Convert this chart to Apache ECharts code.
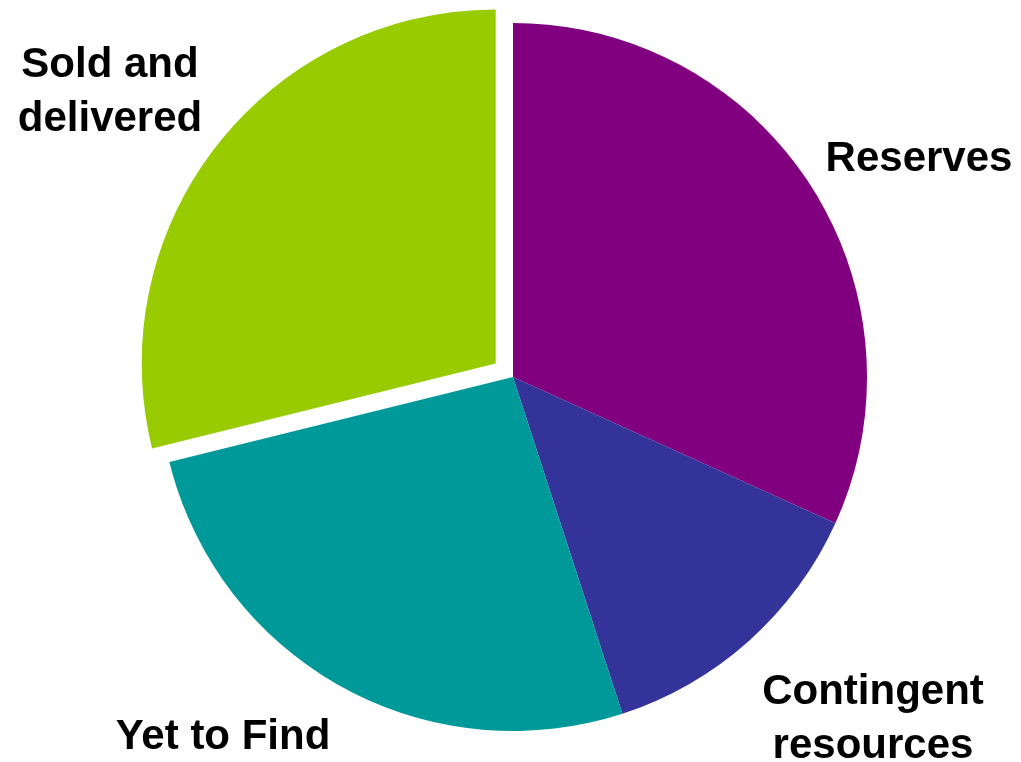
<!DOCTYPE html>
<html><head><meta charset="utf-8">
<script src="https://cdn.jsdelivr.net/npm/echarts@6/dist/echarts.min.js"></script>
<style>html,body{margin:0;padding:0;background:#fff}#c{width:1021px;height:762px}</style>
</head><body><div id="c"></div>
<script>
const categories = ['Reserves', 'Contingent\nresources', 'Yet to Find', 'Sold and\ndelivered'];
const values = [31.78, 13.22, 26.14, 28.86];
const colors = ['#800080', '#333399', '#009999', '#99CC00'];
const labelPos = [[919, 159], [873, 719], [223, 737], [110, 92]];

const base = {
  type: 'pie',
  center: [513, 377],
  radius: [0, 354],
  startAngle: 90,
  clockwise: true,
  avoidLabelOverlap: false,
  emphasis: {disabled: true},
  labelLine: {show: false}
};

const chart = echarts.init(document.getElementById('c'), null, {renderer: 'canvas'});
chart.setOption({
  animation: false,
  series: [
    Object.assign({}, base, {
      selectedMode: 'single',
      selectedOffset: 22,
      itemStyle: {borderWidth: 0},
      label: {show: false},
      data: categories.map((c, i) => ({
        name: c, value: values[i], selected: i === 3,
        itemStyle: {color: colors[i]}
      }))
    }),
    Object.assign({}, base, {
      silent: true,
      z: 3,
      itemStyle: {color: 'rgba(0,0,0,0)', borderWidth: 0},
      label: {
        show: true,
        position: 'outside',
        color: '#000',
        fontFamily: 'Liberation Sans, Arial, sans-serif',
        fontWeight: 'bold',
        fontSize: 42,
        lineHeight: 54,
        align: 'center'
      },
      labelLayout: function (p) {
        const pos = labelPos[p.dataIndex];
        return {x: pos[0], y: pos[1], align: 'center', verticalAlign: 'middle', hideOverlap: false};
      },
      data: categories.map((c, i) => ({name: c, value: values[i]}))
    })
  ]
});
</script></body></html>
